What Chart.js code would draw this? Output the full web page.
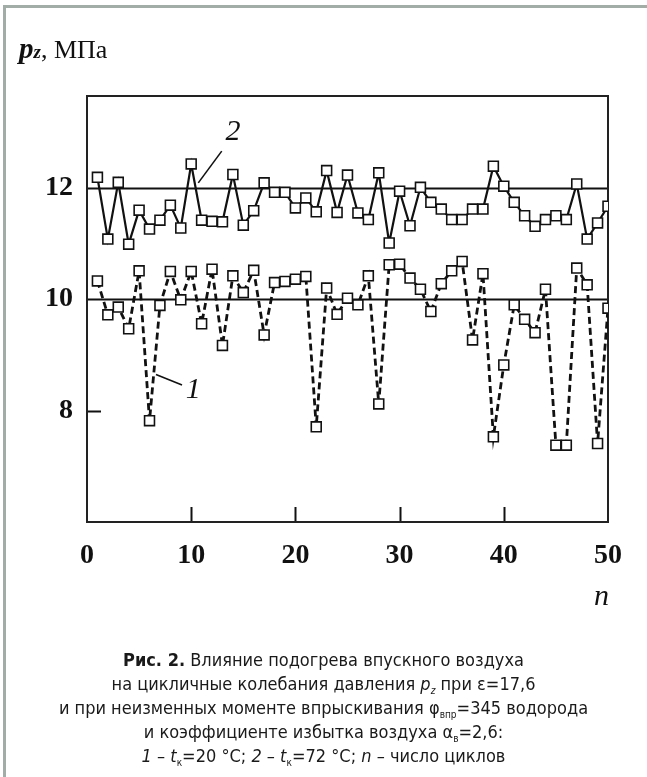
<!DOCTYPE html>
<html>
<head>
<meta charset="utf-8">
<script src="https://cdn.jsdelivr.net/npm/chart.js@4.4.1/dist/chart.umd.min.js"></script>
<style>
  html, body { margin: 0; padding: 0; background: #fff; }
  #wrap { position: relative; width: 647px; height: 777px; overflow: hidden; }
  #frame { position: absolute; left: 3px; top: 5px; width: 700px; height: 800px;
           border-left: 3px solid #a2ada7; border-top: 3px solid #a2ada7; }
  canvas { position: absolute; left: 0; top: 0; }
  #ytitle { position: absolute; left: 19px; top: 32px; font-family: "Liberation Serif", "DejaVu Serif", serif;
            font-size: 26px; color: #111; white-space: nowrap; }
  #ytitle .p { font-weight: bold; font-style: italic; font-size: 29px; }
  #ytitle .z { font-weight: bold; font-style: italic; font-size: 19px; }
  #xtitle { position: absolute; left: 594px; top: 578px; font-family: "Liberation Serif", "DejaVu Serif", serif;
            font-style: italic; font-size: 30px; color: #111; }
  #caption { position: absolute; left: 0; top: 648px; width: 647px; text-align: center;
             font-family: "Liberation Sans Narrow", "DejaVu Sans Condensed", "Roboto", sans-serif;
             font-stretch: condensed; font-size: 18px; line-height: 24px; color: #1a1a1a; }
  #caption sub { font-size: 10px; vertical-align: -4px; line-height: 0; }
</style>
</head>
<body>
<div id="wrap">
  <div id="frame"></div>
  <canvas id="c" width="647" height="777"></canvas>
  <div id="ytitle"><span class="p">p</span><span class="z">z</span>, МПа</div>
  <div id="xtitle">n</div>
  <div id="caption">
    <b>Рис. 2.</b> Влияние подогрева впускного воздуха<br>
    на цикличные колебания давления <i>p</i><sub><i>z</i></sub> при ε=17,6<br>
    и при неизменных моменте впрыскивания φ<sub>впр</sub>=345 водорода<br>
    и коэффициенте избытка воздуха α<sub>в</sub>=2,6:<br>
    <i>1</i> – <i>t</i><sub>к</sub>=20 °C; <i>2</i> – <i>t</i><sub>к</sub>=72 °C; <i>n</i> – число циклов
  </div>
</div>
<script>
// ---- data ----
const cycles = Array.from({length: 50}, (_, i) => i + 1);
const series1_t20 = [10.33, 9.72, 9.86, 9.47, 10.51, 7.82, 9.89, 10.50, 9.99, 10.50,
                     9.56, 10.54, 9.17, 10.42, 10.12, 10.52, 9.36, 10.30, 10.32, 10.36,
                     10.41, 7.71, 10.20, 9.73, 10.02, 9.90, 10.42, 8.12, 10.62, 10.63,
                     10.38, 10.18, 9.78, 10.28, 10.51, 10.68, 9.27, 10.46, 7.53, 8.82,
                     9.90, 9.64, 9.40, 10.18, 7.38, 7.38, 10.56, 10.26, 7.41, 9.84];
const series2_t72 = [12.19, 11.08, 12.10, 10.99, 11.60, 11.26, 11.42, 11.69, 11.28, 12.43,
                     11.42, 11.40, 11.39, 12.24, 11.33, 11.59, 12.09, 11.92, 11.92, 11.64,
                     11.82, 11.57, 12.31, 11.56, 12.23, 11.55, 11.43, 12.27, 11.01, 11.94,
                     11.32, 12.01, 11.74, 11.62, 11.43, 11.43, 11.62, 11.62, 12.39, 12.03,
                     11.74, 11.50, 11.31, 11.43, 11.50, 11.43, 12.07, 11.08, 11.37, 11.67];
const refLines = [10, 12];
const xTicks = [0, 10, 20, 30, 40, 50];
const yTicks = [8, 10, 12];
const seriesLabels = ["1", "2"];

// annotation anchors (data coordinates)
const labelAnchors = {
  "1": { text: [10.2, 8.37], line: [[6.62, 8.65], [9.12, 8.46]] },
  "2": { text: [14.0, 13.0], line: [[12.93, 12.66], [10.68, 12.09]] }
};

const BOX = { left: 87, right: 608, top: 96, bottom: 522 };
const serif = '"Liberation Serif", "DejaVu Serif", serif';

const toPts = vals => cycles.map((n, i) => ({ x: n, y: vals[i] }));

const decor = {
  id: 'decor',
  beforeDatasetsDraw(chart) {
    const { ctx, chartArea: a, scales: { x, y } } = chart;
    ctx.save();
    ctx.strokeStyle = '#111';
    ctx.lineWidth = 2;
    refLines.forEach(v => {
      const py = Math.round(y.getPixelForValue(v)) + 0.5;
      ctx.beginPath(); ctx.moveTo(a.left, py); ctx.lineTo(a.right, py); ctx.stroke();
    });
    // inward ticks
    xTicks.slice(1, -1).forEach(v => {
      const px = Math.round(x.getPixelForValue(v)) + 0.5;
      ctx.beginPath(); ctx.moveTo(px, a.bottom); ctx.lineTo(px, a.bottom - 15); ctx.stroke();
    });
    yTicks.filter(v => !refLines.includes(v)).forEach(v => {
      const py = Math.round(y.getPixelForValue(v)) + 0.5;
      ctx.beginPath(); ctx.moveTo(a.left, py); ctx.lineTo(a.left + 14, py); ctx.stroke();
    });
    // box
    ctx.strokeStyle = '#222';
    ctx.lineWidth = 2;
    ctx.strokeRect(a.left, a.top, a.right - a.left, a.bottom - a.top);
    ctx.restore();
  },
  afterDatasetsDraw(chart) {
    const { ctx, scales: { x, y } } = chart;
    ctx.save();
    ctx.strokeStyle = '#111';
    ctx.fillStyle = '#111';
    ctx.lineWidth = 1.6;
    seriesLabels.forEach(k => {
      const an = labelAnchors[k];
      ctx.beginPath();
      ctx.moveTo(x.getPixelForValue(an.line[0][0]), y.getPixelForValue(an.line[0][1]));
      ctx.lineTo(x.getPixelForValue(an.line[1][0]), y.getPixelForValue(an.line[1][1]));
      ctx.stroke();
      ctx.font = 'italic 30px ' + serif;
      ctx.textAlign = 'center';
      ctx.textBaseline = 'middle';
      ctx.fillText(k, x.getPixelForValue(an.text[0]), y.getPixelForValue(an.text[1]));
    });
    ctx.restore();
  }
};

new Chart(document.getElementById('c'), {
  type: 'line',
  data: {
    datasets: [
      { label: seriesLabels[0], data: toPts(series1_t20), borderColor: '#111', borderWidth: 2.8,
        borderDash: [7, 4], pointStyle: 'rect', pointRadius: 7, pointBorderWidth: 1.6,
        pointBackgroundColor: '#fff', pointBorderColor: '#111', tension: 0 },
      { label: seriesLabels[1], data: toPts(series2_t72), borderColor: '#111', borderWidth: 2.2,
        pointStyle: 'rect', pointRadius: 7, pointBorderWidth: 1.6,
        pointBackgroundColor: '#fff', pointBorderColor: '#111', tension: 0 }
    ]
  },
  options: {
    responsive: false,
    animation: false,
    devicePixelRatio: 1,
    layout: { padding: { left: 0, top: BOX.top, right: 647 - BOX.right, bottom: 0 } },
    plugins: { legend: { display: false }, tooltip: { enabled: false } },
    scales: {
      x: {
        type: 'linear', min: 0, max: 50,
        afterBuildTicks: s => { s.ticks = xTicks.map(v => ({ value: v })); },
        afterFit: s => { s.height = 777 - BOX.bottom; },
        grid: { display: false, drawTicks: false },
        border: { display: false },
        ticks: { padding: 17, color: '#111', font: { family: serif, size: 28, weight: 'bold' }, maxRotation: 0 }
      },
      y: {
        type: 'linear', min: 6, max: 13.65,
        afterBuildTicks: s => { s.ticks = yTicks.map(v => ({ value: v })); },
        afterFit: s => { s.width = BOX.left; },
        grid: { display: false, drawTicks: false },
        border: { display: false },
        ticks: { padding: 14, color: '#111', font: { family: serif, size: 28, weight: 'bold' } }
      }
    }
  },
  plugins: [decor]
});
</script>
</body>
</html>
